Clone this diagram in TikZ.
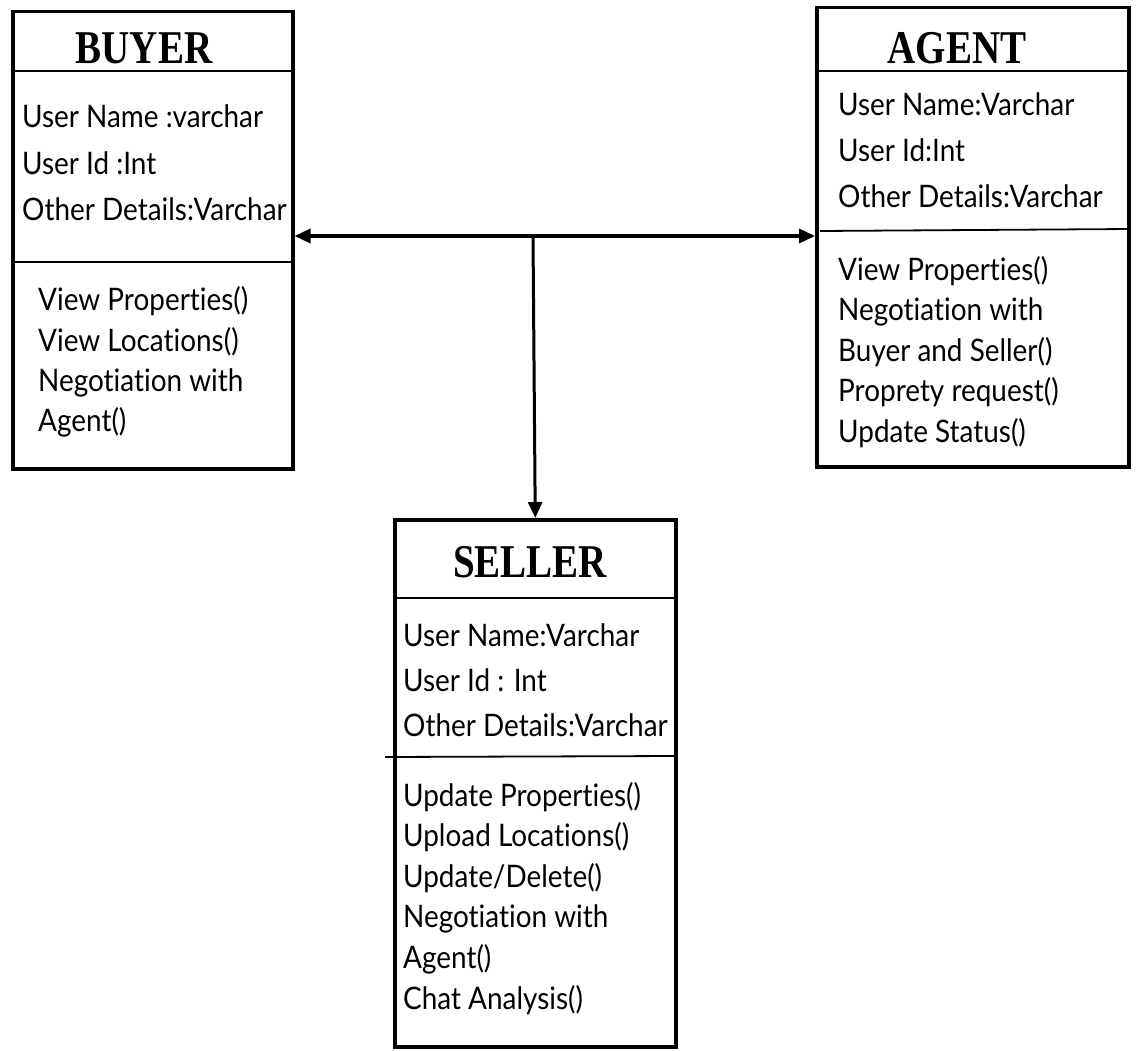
\documentclass[tikz,border=0pt]{standalone}
\usepackage{fontspec}
\setmainfont{Lato}[Ligatures=NoCommon]
\newfontfamily\titlefont{Liberation Serif}
\usetikzlibrary{arrows.meta}
\newcommand{\narrow}[1]{\scalebox{0.83}[1]{#1}}
\newcommand{\sq}[1]{\scalebox{0.9}[1]{#1}}
\begin{document}
\begin{tikzpicture}[x=1pt,y=-1pt,
  box/.style={draw, line width=3.5pt, anchor=north west, inner sep=0},
  rule/.style={line width=1.8pt},
  ttl/.style={font=\titlefont\bfseries\fontsize{47}{47}\selectfont, inner sep=0},
  txt/.style={font=\fontsize{31}{34}\selectfont, anchor=base west, inner sep=0},
  link/.style={line width=3.5pt, -{Triangle[length=16pt,width=14pt]}}]
\useasboundingbox (0,0) rectangle (1136,1051);
\fill[white] (0,0) rectangle (1136,1051);

% class boxes
\node[box, minimum width=280pt, minimum height=457pt] (buyer) at (11,10) {};
\node[box, minimum width=312pt, minimum height=459pt] (agent) at (815,6) {};
\node[box, minimum width=281pt, minimum height=527pt] (seller) at (393,518) {};

% compartment rules
\draw[rule] (buyer.west |- 0,71) -- (buyer.east |- 0,71);
\draw[rule] (buyer.west |- 0,262) -- (buyer.east |- 0,262);
\draw[rule] (agent.west |- 0,71) -- (agent.east |- 0,71);
\draw[rule] (820,231) -- (agent.east |- 0,229);
\draw[rule] (seller.west |- 0,598) -- (seller.east |- 0,598);
\draw[rule] (385,757) -- (seller.east |- 0,756);

% class names
\node[ttl] (buyerT) at (144,48) {\narrow{BUYER}};
\node[ttl] (agentT) at (957,48) {\narrow{AGENT}};
\node[ttl] (sellerT) at (530,562) {\narrow{SELLER}};

% buyer
\foreach \t [count=\i] in {User Name :varchar, User Id :Int, Other Details:Varchar}
  \node[txt] (ba\i) at (22,{128+46.5*(\i-1)}) {\sq{\t}};
\foreach \t [count=\i] in {View Properties(), View Locations(), Negotiation with, Agent()}
  \node[txt] (bm\i) at (38,{311+40*(\i-1)}) {\sq{\t}};

% agent
\foreach \t [count=\i] in {User Name:Varchar, User Id:Int, Other Details:Varchar}
  \node[txt] (aa\i) at (838,{116+46*(\i-1)}) {\sq{\t}};
\foreach \t [count=\i] in {View Properties(), Negotiation with, Buyer and Seller(), Proprety request(), Update Status()}
  \node[txt] (am\i) at (838,{280+40.5*(\i-1)}) {\sq{\t}};

% seller
\foreach \t [count=\i] in {User Name:Varchar, User Id : Int, Other Details:Varchar}
  \node[txt] (sa\i) at (403,{646+45*(\i-1)}) {\sq{\t}};
\foreach \t [count=\i] in {Update Properties(), Upload Locations(), Update/Delete(), Negotiation with, Agent(), Chat Analysis()}
  \node[txt] (sm\i) at (403,{806+40.6*(\i-1)}) {\sq{\t}};

% associations
\coordinate (j) at (533,236);
\draw[link] (j) -- (buyer.east |- j);
\draw[link] (j) -- (agent.west |- j);
\draw[link, line width=3pt] (j) -- (seller.north);
\end{tikzpicture}
\end{document}
